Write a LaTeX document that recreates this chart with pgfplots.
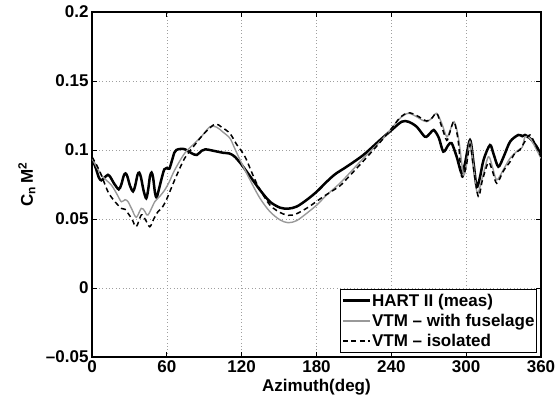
\documentclass[border=0pt]{standalone}
\usepackage{pgfplots}
\pgfplotsset{compat=1.18}
\usepackage{fontspec}
\setmainfont{Liberation Sans}
\definecolor{vtmgray}{rgb}{0.6,0.6,0.6}
\begin{document}
\begin{tikzpicture}
\useasboundingbox (-92pt,-46pt) rectangle (463pt,357pt);
\begin{axis}[
  scale only axis,
  width=449pt, height=345pt,
  xmin=0, xmax=360, ymin=-0.05, ymax=0.2,
  xtick={0,60,120,180,240,300,360},
  xticklabels={0,60,120,180,240,300,360},
  ytick={-0.05,0,0.05,0.1,0.15,0.2},
  yticklabels={–0.05,0,0.05,0.1,0.15,0.2},
  tick label style={font=\fontsize{17}{19}\selectfont\bfseries},
  label style={font=\fontsize{17}{19}\selectfont\bfseries},
  xlabel={Azimuth(deg)},
  ylabel={C\textsubscript{n}\,M\textsuperscript{2}},
  xlabel style={at={(axis description cs:0.5,-0.087)}, anchor=center},
  ylabel style={at={(axis description cs:-0.145,0.5)}, anchor=center},
  axis line style={line width=1.1pt},
  tick style={line width=0.8pt, black},
  major tick length=5pt,
  tick align=inside,
  xtick pos=both, ytick pos=both,
  grid=major,
  grid style={dash pattern=on 0.8pt off 2.6pt, gray!75, line width=0.6pt},
  legend style={at={(axis description cs:0.991,0.0125)}, anchor=south east,
    font=\fontsize{17}{19}\selectfont\bfseries, draw=black, line width=0.9pt,
    inner sep=1pt, row sep=0pt, column sep=0pt,
    nodes={inner xsep=1pt, inner ysep=3.2pt}, cells={anchor=west}},
  legend image code/.code={\draw[#1] (0pt,0pt) -- (27pt,0pt);},
]
\addplot[black, line width=2.5pt, smooth, tension=0.5] coordinates {
(0,0.094) (3,0.087) (5.5,0.080) (7.5,0.078) (10,0.080) (12.8,0.082) (15,0.080)
(17.5,0.076) (21.4,0.0715) (23.5,0.075) (25.5,0.0815) (26.9,0.083) (28.3,0.081)
(30.5,0.074) (32.9,0.0700) (34.6,0.074) (36.5,0.082) (37.9,0.0836) (39.3,0.080)
(41.5,0.070) (43.5,0.0650) (45,0.071) (46.5,0.081) (47.8,0.0836) (49,0.080)
(50.5,0.069) (51.8,0.0655) (53.5,0.071) (56,0.080) (58,0.0860) (60,0.0870)
(62,0.0865) (64,0.092) (66,0.098) (67.6,0.100)
(71,0.1008) (74.6,0.1005) (80,0.0976) (84,0.0964) (88,0.0995) (91,0.1005)
(97,0.0995) (105,0.098) (110,0.0975) (114,0.0955) (119,0.0905) (126.7,0.081)
(134.7,0.071) (142.7,0.0625) (150.8,0.0582) (157.4,0.0575) (164.1,0.059)
(172.1,0.0638) (180.2,0.0698) (188.2,0.077) (195,0.0825) (204.2,0.0879)
(217.6,0.0964) (230.9,0.1072) (240.3,0.1145) (248.3,0.1205) (253.6,0.1205)
(260.3,0.1169) (267,0.1096) (271,0.112) (274,0.1145) (278,0.109) (281.7,0.0988)
(285.7,0.1036) (288.4,0.1049) (292.4,0.0951) (296.4,0.083) (299,0.090)
(303.1,0.1072) (306,0.090) (308.4,0.0734) (311,0.080) (314,0.093) (319.1,0.1036)
(322,0.097) (325.8,0.0879) (330,0.095) (335.2,0.106) (341.8,0.1109) (345,0.1100)
(347.2,0.1109) (351.2,0.1085) (356.6,0.1024) (360,0.0964)
};
\addlegendentry{HART II (meas)}
\addplot[vtmgray, line width=1.4pt, smooth, tension=0.5] coordinates {
(0,0.094) (7.5,0.0819) (15.5,0.0746) (20,0.068) (23.5,0.0625) (26.5,0.064)
(28.9,0.0625) (32,0.057) (35.5,0.0512) (39.5,0.0577) (42,0.056) (44.9,0.0529)
(50.3,0.0625) (54,0.066) (58.3,0.071) (62,0.077) (66.3,0.0855) (74.3,0.0976)
(82.3,0.1049) (88,0.110) (94.6,0.1169) (100,0.1165) (105,0.113) (110.6,0.1085)
(114,0.102) (118.7,0.0928) (126.7,0.0783) (134.7,0.065) (142.7,0.0553)
(150.8,0.0493) (157.4,0.0473) (164.1,0.0488) (172.1,0.0541) (180.2,0.0601)
(188.2,0.0674) (198.8,0.0759) (204.2,0.081) (217.6,0.094) (230.9,0.106)
(240.3,0.1157) (247,0.123) (253.6,0.1266) (260.3,0.1241) (264,0.122)
(268.4,0.1205) (272.4,0.123) (276.4,0.1266) (280.4,0.1193) (284.4,0.1096)
(287,0.114) (290.3,0.1205) (293.7,0.1096) (297.7,0.0831) (300,0.088)
(303.1,0.106) (306,0.088) (309,0.0686) (313,0.080) (317.8,0.0951) (321,0.088)
(324.5,0.0783) (330,0.086) (335.2,0.094) (341.8,0.100) (345,0.102)
(347.2,0.1096) (351.2,0.1085) (356,0.101) (360,0.094)
};
\addlegendentry{VTM – with fuselage}
\addplot[black, line width=1.5pt, dash pattern=on 5pt off 3.5pt, smooth, tension=0.5] coordinates {
(0,0.095) (6,0.085) (12.8,0.0698) (18,0.063) (23.5,0.0577) (26.5,0.057)
(28.9,0.0541) (32,0.050) (35.5,0.0444) (39.5,0.0529) (42.5,0.050) (46.3,0.0444)
(49.5,0.050) (52.9,0.0553) (56,0.058) (59.6,0.0638) (66.3,0.0783) (74.3,0.094)
(82.3,0.1036) (90,0.112) (98.6,0.1188) (104,0.1165) (110.6,0.112) (116,0.104)
(122.7,0.0951) (132,0.0759) (142.7,0.0601) (153.4,0.0536) (161.4,0.0529)
(172.1,0.0578) (185.5,0.0662) (198.8,0.074) (204.2,0.079) (217.6,0.092)
(230.9,0.1055) (240.3,0.1157) (247,0.1235) (253.6,0.127) (260.3,0.125)
(264,0.123) (268.4,0.121) (272.4,0.123) (276.4,0.1266) (280.4,0.117)
(284.4,0.107) (287,0.113) (290.3,0.1205) (293.7,0.106) (296.4,0.0807)
(300,0.088) (303.1,0.104) (306,0.086) (309.8,0.0662) (313,0.078) (317.8,0.091)
(321,0.085) (324.5,0.0759) (330,0.085) (335.2,0.0915) (339,0.0976) (343,0.100)
(347,0.106) (351.2,0.1109) (356,0.103) (360,0.0951)
};
\addlegendentry{VTM – isolated}
\end{axis}
\end{tikzpicture}
\end{document}
